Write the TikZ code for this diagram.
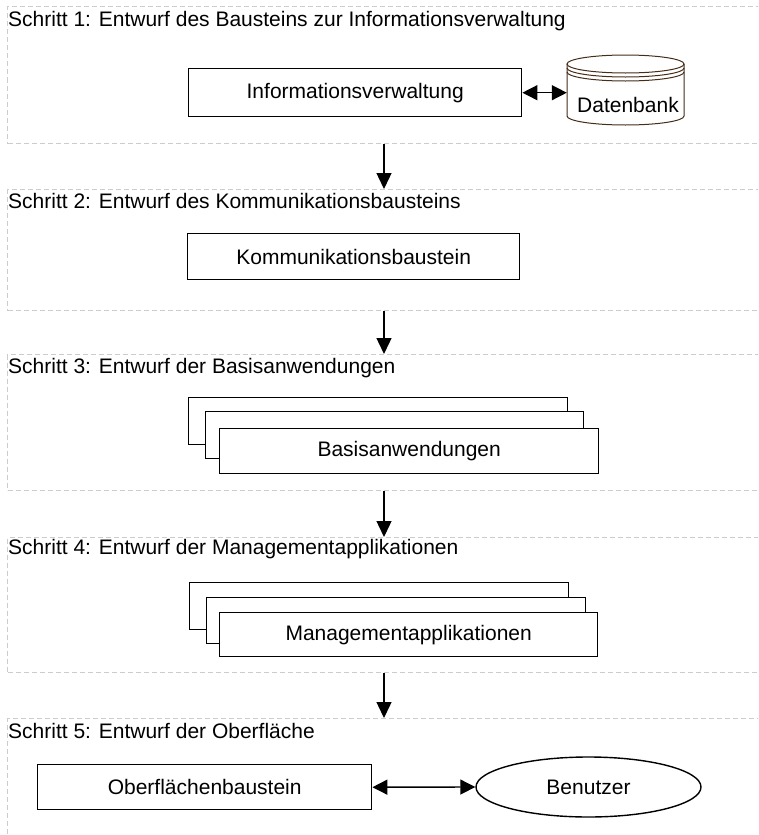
\documentclass[tikz,border=0pt]{standalone}
\usepackage{fontspec}
\setmainfont{Liberation Sans}
\usetikzlibrary{arrows.meta,shapes.geometric}
\definecolor{framegray}{RGB}{204,204,204}
\definecolor{dbline}{RGB}{70,45,25}
\begin{document}
\begin{tikzpicture}[x=1pt,y=-1pt,
  every node/.style={font=\fontsize{21}{25}\selectfont},
  stepframe/.style={draw=framegray, line width=1pt, dash pattern=on 5pt off 3pt,
    anchor=north west, inner sep=0pt, minimum width=760pt},
  steptitle/.style={anchor=base west, inner sep=0pt},
  block/.style={draw, line width=1.4pt, fill=white, inner sep=0pt, anchor=north west},
  flow/.style={-{Triangle[length=16pt,width=15pt]}, line width=1.4pt},
  twoway/.style={{Triangle[length=15pt,width=15pt]}-{Triangle[length=15pt,width=15pt]}, line width=1.4pt}]

\useasboundingbox (0,0) rectangle (758,835);
\clip (0,0) rectangle (758,835);

% step frames
\node[stepframe, minimum height=137pt] (s1) at (7,6) {};
\node[stepframe, minimum height=121pt] (s2) at (7,189) {};
\node[stepframe, minimum height=136pt] (s3) at (7,354) {};
\node[stepframe, minimum height=135pt] (s4) at (7,537) {};
\node[stepframe, minimum height=130pt] (s5) at (7,718) {};

% step titles
\node[steptitle] (t1) at (8,26) {Schritt 1: Entwurf des Bausteins zur Informationsverwaltung};
\node[steptitle] (t2) at (8,208) {Schritt 2: Entwurf des Kommunikationsbausteins};
\node[steptitle] (t3) at (8,373) {Schritt 3: Entwurf der Basisanwendungen};
\node[steptitle] (t4) at (8,554) {Schritt 4: Entwurf der Managementapplikationen};
\node[steptitle] (t5) at (8,738) {Schritt 5: Entwurf der Oberfläche};

% step 1
\node[block, minimum width=333pt, minimum height=48pt] (iv) at (188,68) {Informationsverwaltung};
\node[minimum width=117pt, minimum height=70pt, inner sep=0pt] (db) at (625.5,90) {};
\begin{scope}[draw=dbline, line width=1pt]
  \filldraw[fill=white] (567,64) -- (567,116)
    arc[start angle=180, end angle=360, x radius=58.5pt, y radius=9pt] -- (684,64);
  \filldraw[fill=white] (625.5,64) ellipse [x radius=58.5pt, y radius=9pt];
  \draw (567,68) arc[start angle=180, end angle=360, x radius=58.5pt, y radius=9pt];
  \draw (567,72) arc[start angle=180, end angle=360, x radius=58.5pt, y radius=9pt];
\end{scope}
\node[anchor=base, inner sep=0pt] (dbtext) at (628,112) {Datenbank};

% step 2
\node[block, minimum width=332pt, minimum height=46pt] (kb) at (187,233) {Kommunikationsbaustein};

% step 3
\node[block, minimum width=379pt, minimum height=47pt] (b3a) at (188,397) {};
\node[block, minimum width=378pt, minimum height=47pt] (b3b) at (205,411) {};
\node[block, minimum width=379pt, minimum height=45pt] (b3c) at (219,428) {Basisanwendungen};

% step 4
\node[block, minimum width=379pt, minimum height=47pt] (b4a) at (189,582) {};
\node[block, minimum width=379pt, minimum height=46pt] (b4b) at (206,597) {};
\node[block, minimum width=378pt, minimum height=44pt] (b4c) at (219,612) {Managementapplikationen};

% step 5
\node[block, minimum width=334pt, minimum height=45pt] (ob) at (37,764) {Oberflächenbaustein};
\node[draw, ellipse, line width=1.4pt, minimum width=225pt, minimum height=60pt, inner sep=0pt] (user) at (588.5,787) {Benutzer};

% connectors
\coordinate (axis) at (384,0);
\draw[flow] (s1.south -| axis) -- (s2.north -| axis);
\draw[flow] (s2.south -| axis) -- (s3.north -| axis);
\draw[flow] (s3.south -| axis) -- (s4.north -| axis);
\draw[flow] (s4.south -| axis) -- (s5.north -| axis);
\draw[twoway] (iv.east) -- (iv.east -| db.west);
\draw[twoway] (ob.east) -- (user.west);
\end{tikzpicture}
\end{document}
